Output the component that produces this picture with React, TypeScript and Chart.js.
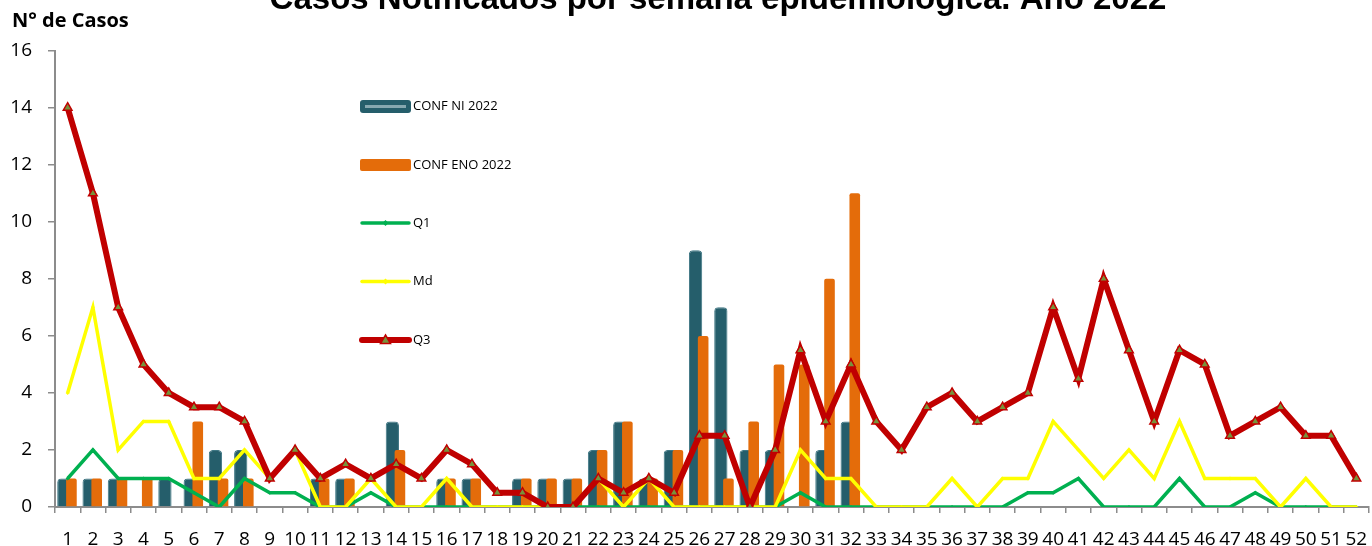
import React, { useEffect, useRef } from 'react';
import { Chart, registerables } from 'chart.js';

Chart.register(...registerables);

const weeks = ['1','2','3','4','5','6','7','8','9','10','11','12','13','14','15','16','17','18','19','20','21','22','23','24','25','26','27','28','29','30','31','32','33','34','35','36','37','38','39','40','41','42','43','44','45','46','47','48','49','50','51','52'];

const confNI = [1,1,1,0,1,1,2,2,0,0,1,1,0,3,0,1,1,0,1,1,1,2,3,1,2,9,7,2,2,0,2,3,0,0,0,0,0,0,0,0,0,0,0,0,0,0,0,0,0,0,0,0];
const confENO = [1,1,1,1,0,3,1,1,0,0,1,1,0,2,0,1,1,0,1,1,1,2,3,1,2,6,1,3,5,5,8,11,0,0,0,0,0,0,0,0,0,0,0,0,0,0,0,0,0,0,0,0];
const q1 = [1,2,1,1,1,0.5,0,1,0.5,0.5,0,0,0.5,0,0,0,0,0,0,0,0,0,0,0,0,0,0,0,0,0.5,0,0,0,0,0,0,0,0,0.5,0.5,1,0,0,0,1,0,0,0.5,0,0,0,0];
const md = [4,7,2,3,3,1,1,2,1,2,0,0,1,0,0,1,0,0,0,0,0,1,0,1,0,0,0,0,0,2,1,1,0,0,0,1,0,1,1,3,2,1,2,1,3,1,1,1,0,1,0,0];
const q3 = [14,11,7,5,4,3.5,3.5,3,1,2,1,1.5,1,1.5,1,2,1.5,0.5,0.5,0,0,1,0.5,1,0.5,2.5,2.5,0,2,5.5,3,5,3,2,3.5,4,3,3.5,4,7,4.5,8,5.5,3,5.5,5,2.5,3,3.5,2.5,2.5,1];

const yTicks = [0,2,4,6,8,10,12,14,16];

const TITLE = 'Casos Notificados por semana epidemiológica. Año 2022';
const Y_TITLE = 'N° de Casos';

const TEAL = '#255E6B';
const ORANGE = '#E46C0A';
const GREEN = '#00B050';
const YELLOW = '#FFFF00';
const RED = '#C00000';
const OLIVE = '#77933C';
const AXIS = '#8C8C8C';

const seriesNames = ['CONF NI 2022', 'CONF ENO 2022', 'Q1', 'Md', 'Q3'];

// draw NI bars before ENO bars so that the orange bars overlap the teal ones,
// while NI keeps the left slot in each group
const barOrderPlugin = {
  id: 'barOrder',
  beforeDatasetDraw(chart: any, args: any) {
    if (args.index === 0) return false;
    if (args.index === 1) {
      const meta = chart.getDatasetMeta(0);
      if (!meta.hidden) meta.controller.draw();
    }
    return true;
  },
};

const decorPlugin = {
  id: 'decor',
  afterDraw(chart: any) {
    const ctx = chart.ctx as CanvasRenderingContext2D;
    ctx.save();
    // title
    ctx.fillStyle = '#000';
    ctx.font = 'bold 33px "Liberation Sans", Arial, sans-serif';
    ctx.textAlign = 'center';
    ctx.textBaseline = 'alphabetic';
    ctx.fillText(TITLE, 718, 9);
    // y title
    ctx.font = 'bold 20px "Open Sans", sans-serif';
    ctx.textAlign = 'left';
    ctx.textBaseline = 'middle';
    ctx.fillText(Y_TITLE, 12, 21);

    // legend
    const x0 = 360;
    const x1 = 411;
    const ys = [106.5, 165, 223, 281.5, 340];
    ctx.font = '13px "Open Sans", sans-serif';
    ctx.textAlign = 'left';
    ctx.textBaseline = 'middle';
    seriesNames.forEach((name, i) => {
      const y = ys[i];
      if (i === 0) {
        ctx.fillStyle = TEAL;
        ctx.beginPath();
        (ctx as any).roundRect(x0, y - 6.5, x1 - x0, 13, 3);
        ctx.fill();
        ctx.fillStyle = '#86A8B0';
        ctx.fillRect(x0 + 5, y - 1.5, x1 - x0 - 10, 3);
      } else if (i === 1) {
        ctx.fillStyle = ORANGE;
        ctx.beginPath();
        (ctx as any).roundRect(x0, y - 6, x1 - x0, 12, 2);
        ctx.fill();
      } else {
        const col = i === 2 ? GREEN : i === 3 ? YELLOW : RED;
        ctx.strokeStyle = col;
        ctx.lineWidth = i === 4 ? 6 : 3.5;
        ctx.lineCap = 'round';
        ctx.beginPath();
        ctx.moveTo(x0 + 2, y);
        ctx.lineTo(x1 - 2, y);
        ctx.stroke();
        const cx = (x0 + x1) / 2;
        if (i === 4) {
          ctx.fillStyle = OLIVE;
          ctx.strokeStyle = RED;
          ctx.lineWidth = 1.5;
          ctx.beginPath();
          ctx.moveTo(cx, y - 5);
          ctx.lineTo(cx + 5, y + 3.5);
          ctx.lineTo(cx - 5, y + 3.5);
          ctx.closePath();
          ctx.fill();
          ctx.stroke();
        } else {
          ctx.fillStyle = col;
          ctx.beginPath();
          ctx.moveTo(cx, y - 3);
          ctx.lineTo(cx + 3, y);
          ctx.lineTo(cx, y + 3);
          ctx.lineTo(cx - 3, y);
          ctx.closePath();
          ctx.fill();
        }
      }
      ctx.fillStyle = '#000';
      ctx.fillText(name, 413, y);
    });
    ctx.restore();
  },
};

export default function App() {
  const ref = useRef<HTMLCanvasElement | null>(null);
  useEffect(() => {
    if (!ref.current) return;
    const chart = new Chart(ref.current, {
      type: 'bar',
      data: {
        labels: weeks,
        datasets: [
          {
            type: 'bar',
            label: seriesNames[0],
            data: confNI,
            backgroundColor: TEAL,
            borderColor: '#3E7683',
            borderWidth: 1,
            borderRadius: { topLeft: 4, topRight: 4, bottomLeft: 0, bottomRight: 0 },
            borderSkipped: 'bottom',
            categoryPercentage: 0.6,
            barPercentage: 1.75,
            order: 3,
          },
          {
            type: 'bar',
            label: seriesNames[1],
            data: confENO,
            backgroundColor: ORANGE,
            borderWidth: 0,
            borderRadius: { topLeft: 2, topRight: 2, bottomLeft: 0, bottomRight: 0 },
            borderSkipped: 'bottom',
            categoryPercentage: 0.6,
            barPercentage: 1.4,
            order: 4,
          },
          {
            type: 'line',
            label: seriesNames[2],
            data: q1,
            borderColor: GREEN,
            backgroundColor: GREEN,
            borderWidth: 3.5,
            pointStyle: 'rectRot',
            pointRadius: 2,
            pointBorderWidth: 0,
            tension: 0,
            order: 2,
          },
          {
            type: 'line',
            label: seriesNames[3],
            data: md,
            borderColor: YELLOW,
            backgroundColor: YELLOW,
            borderWidth: 3.5,
            pointStyle: 'rectRot',
            pointRadius: 2,
            pointBorderWidth: 0,
            tension: 0,
            order: 1,
          },
          {
            type: 'line',
            label: seriesNames[4],
            data: q3,
            borderColor: RED,
            backgroundColor: OLIVE,
            borderWidth: 6,
            pointStyle: 'triangle',
            pointRadius: 5,
            pointBackgroundColor: OLIVE,
            pointBorderColor: RED,
            pointBorderWidth: 1.5,
            tension: 0,
            order: 0,
          },
        ] as any,
      },
      options: {
        animation: false,
        responsive: false,
        devicePixelRatio: 1,
        layout: { autoPadding: false, padding: { top: 50.7, left: 0, right: 3, bottom: 0 } },
        plugins: {
          legend: { display: false },
          title: { display: false },
          tooltip: { enabled: false },
        },
        scales: {
          x: {
            offset: true,
            grid: {
              offset: true,
              drawOnChartArea: false,
              drawTicks: true,
              tickLength: 6,
              color: AXIS,
              lineWidth: 1.5,
            },
            border: { display: true, color: AXIS, width: 2 },
            ticks: {
              autoSkip: false,
              maxRotation: 0,
              minRotation: 0,
              padding: 15,
              color: '#000',
              font: { family: '"Open Sans", sans-serif', size: 19 },
            },
            afterFit(scale: any) {
              scale.height = 39;
              scale.paddingLeft = 0;
              scale.paddingRight = 0;
            },
          },
          y: {
            min: 0,
            max: 16,
            afterBuildTicks(scale: any) {
              scale.ticks = yTicks.map((v) => ({ value: v }));
            },
            grid: {
              drawOnChartArea: false,
              drawTicks: true,
              tickLength: 7,
              color: AXIS,
              lineWidth: 1.5,
            },
            border: { display: true, color: AXIS, width: 2 },
            ticks: {
              padding: 16,
              color: '#000',
              font: { family: '"Open Sans", sans-serif', size: 19 },
            },
            afterFit(scale: any) {
              scale.width = 55;
              scale.paddingTop = 0;
              scale.paddingBottom = 0;
            },
          },
        },
      } as any,
      plugins: [barOrderPlugin, decorPlugin],
    });
    return () => chart.destroy();
  }, []);
  return (
    <div style={{ position: 'absolute', left: 0, top: 0, width: 1372, height: 546, background: '#fff' }}>
      <canvas ref={ref} width={1372} height={546} />
    </div>
  );
}
